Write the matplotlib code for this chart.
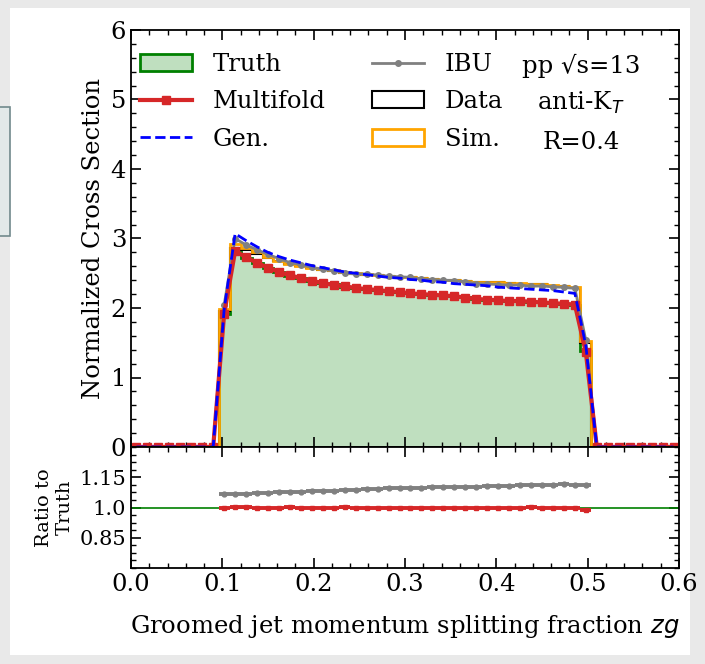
import numpy as np
import matplotlib.pyplot as plt
from matplotlib.patches import Rectangle

plt.rcParams['font.family'] = 'DejaVu Serif'

# 50 bins of width 0.012 on [0, 0.6]; only bins 8..41 (0.096-0.504) are filled
edges = np.linspace(0, 0.6, 51)
n_lo, n_hi = 8, 8

truth = [1.92, 2.81, 2.72, 2.65, 2.58, 2.52, 2.46, 2.43, 2.39, 2.36, 2.34, 2.30,
         2.29, 2.28, 2.26, 2.24, 2.23, 2.22, 2.20, 2.19, 2.18, 2.17, 2.16, 2.13,
         2.12, 2.11, 2.10, 2.10, 2.08, 2.08, 2.07, 2.06, 2.05, 1.38]
multifold = [1.92, 2.82, 2.73, 2.65, 2.58, 2.52, 2.47, 2.43, 2.39, 2.36, 2.33, 2.31,
             2.29, 2.27, 2.26, 2.24, 2.23, 2.21, 2.20, 2.19, 2.18, 2.17, 2.15, 2.13,
             2.12, 2.11, 2.10, 2.10, 2.09, 2.08, 2.07, 2.06, 2.05, 1.36]
ibu_ratio = [1.066, 1.067, 1.069, 1.071, 1.074, 1.076, 1.078, 1.079, 1.081, 1.083,
             1.084, 1.088, 1.087, 1.092, 1.094, 1.097, 1.098, 1.099, 1.098, 1.100,
             1.101, 1.103, 1.101, 1.104, 1.106, 1.108, 1.109, 1.110, 1.112, 1.114,
             1.113, 1.115, 1.114, 1.113]
gen = [1.98, 3.07, 2.97, 2.88, 2.80, 2.74, 2.69, 2.65, 2.61, 2.58, 2.55, 2.52,
       2.50, 2.48, 2.46, 2.44, 2.43, 2.41, 2.40, 2.38, 2.37, 2.35, 2.34, 2.33,
       2.32, 2.30, 2.29, 2.28, 2.27, 2.26, 2.25, 2.23, 2.21, 1.46]
sim = [1.99, 2.92, 2.87, 2.80, 2.74, 2.68, 2.64, 2.61, 2.58, 2.56, 2.54, 2.52,
       2.50, 2.49, 2.47, 2.46, 2.45, 2.44, 2.43, 2.42, 2.41, 2.41, 2.39, 2.38,
       2.37, 2.37, 2.36, 2.36, 2.35, 2.34, 2.33, 2.31, 2.30, 1.53]
data = [1.95, 2.86, 2.84, 2.78, 2.72, 2.67, 2.63, 2.60, 2.57, 2.55, 2.53, 2.51,
        2.49, 2.48, 2.47, 2.46, 2.45, 2.44, 2.43, 2.42, 2.41, 2.40, 2.39, 2.38,
        2.38, 2.37, 2.36, 2.35, 2.35, 2.34, 2.32, 2.31, 2.29, 1.50]


def full(v):
    return np.concatenate([np.zeros(n_lo), np.asarray(v, float), np.zeros(n_hi)])


centers = 0.5 * (edges[1:] + edges[:-1])
truth_a = np.asarray(truth)
ibu = truth_a * np.asarray(ibu_ratio)
red = '#d62728'
fs = 17.5

fig = plt.figure(figsize=(7.05, 6.64), dpi=100)
fig.patch.set_facecolor('#e9e9e9')
fig.patches.append(Rectangle((10 / 705, 9 / 664), 680 / 705, 647 / 664,
                             transform=fig.transFigure, facecolor='white',
                             edgecolor='none', zorder=-10))
fig.patches.append(Rectangle((-0.01, (664 - 236) / 664), 17 / 705, 129 / 664,
                             transform=fig.transFigure, facecolor='#e2e9e9',
                             edgecolor='#71898c', lw=1.2, zorder=-9))

ax = fig.add_axes([131 / 705, (664 - 447) / 664, 548 / 705, 417 / 664])
ax2 = fig.add_axes([131 / 705, (664 - 568) / 664, 548 / 705, 121 / 664], sharex=ax)

ax.hist(centers, bins=edges, weights=full(truth), histtype='stepfilled',
        facecolor=(0, 0.5, 0, 0.25), edgecolor='green', lw=2, label='Truth')
ax.hist(centers, bins=edges, weights=full(data), histtype='step',
        color='black', lw=1.5, label='Data')
ax.hist(centers, bins=edges, weights=full(sim), histtype='step',
        color='orange', lw=2, label='Sim.')
ax.plot(centers, full(ibu), '-o', color='gray', ms=4, lw=2, label='IBU')
ax.plot(centers, full(multifold), '-s', color=red, ms=6, lw=3, label='Multifold')
ax.plot(centers, full(gen), '--', color='blue', lw=2, label='Gen.')

h, l = ax.get_legend_handles_labels()
order = ['Truth', 'Multifold', 'Gen.', 'IBU', 'Data', 'Sim.']
hd = dict(zip(l, h))
ax.legend([hd[k] for k in order], order, ncol=2, frameon=False, fontsize=fs,
          loc='upper left', bbox_to_anchor=(0.016, 0.944), borderpad=0,
          borderaxespad=0, handlelength=2.15, handletextpad=0.85,
          labelspacing=0.58, columnspacing=1.9)

ax.text(0.821, 0.914, 'pp √s=13', transform=ax.transAxes, ha='center', va='center', fontsize=fs)
ax.text(0.821, 0.825, 'anti-K$_T$', transform=ax.transAxes, ha='center', va='center', fontsize=fs)
ax.text(0.821, 0.73, 'R=0.4', transform=ax.transAxes, ha='center', va='center', fontsize=fs)

ax.set_xlim(0, 0.6)
ax.set_ylim(0, 6)
ax.set_ylabel('Normalized Cross Section', fontsize=fs)
ax.tick_params(labelbottom=False)

x_r = centers[n_lo:len(centers) - n_hi]
ax2.axhline(1.0, color='green', lw=1.2)
ax2.errorbar(x_r, ibu / truth_a, xerr=0.006, yerr=0.004, fmt='o', color='gray',
             ms=3.5, lw=2.8)
ax2.errorbar(x_r, np.asarray(multifold) / truth_a, xerr=0.006, yerr=0.004, fmt='s',
             color=red, ms=3.5, lw=2.8)
ax2.set_ylim(0.7, 1.3)
ax2.set_yticks([0.85, 1.0, 1.15])
ax2.set_yticklabels(['0.85', '1.0', '1.15'])
ax2.set_xticks(np.arange(0, 0.61, 0.1))
ax2.set_ylabel('Ratio to\nTruth', fontsize=14)
ax2.set_xlabel('Groomed jet momentum splitting fraction $zg$', fontsize=fs, labelpad=12)

for a in (ax, ax2):
    a.minorticks_on()
    a.tick_params(which='both', direction='in', top=True, right=True)
    a.tick_params(which='major', length=7, width=1.2, labelsize=fs)
    a.tick_params(which='minor', length=3.5, width=1.0)
    for s in a.spines.values():
        s.set_linewidth(1.3)
ax2.tick_params(axis='y', labelsize=15)

fig.savefig('out.png', dpi=100, facecolor=fig.get_facecolor())
